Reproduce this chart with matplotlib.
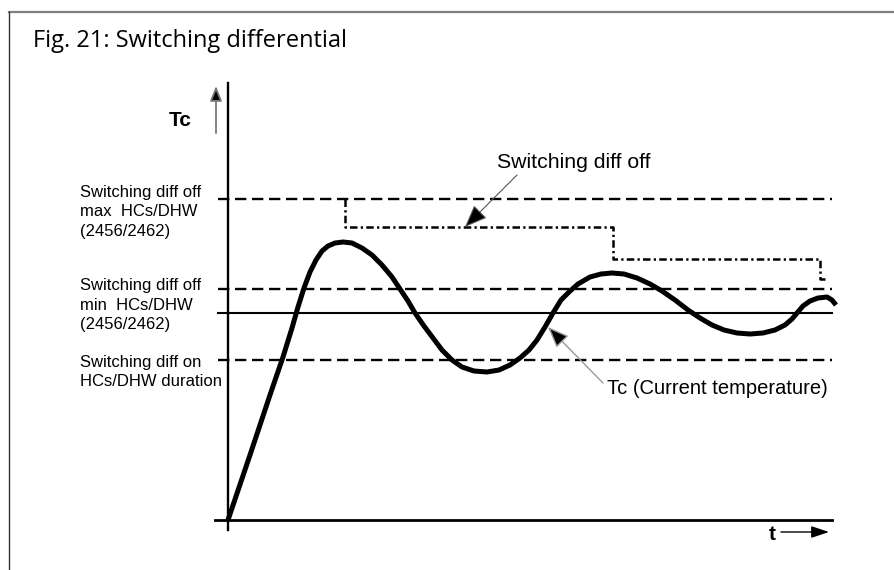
import matplotlib
matplotlib.use("Agg")
import matplotlib.pyplot as plt
from matplotlib.lines import Line2D

# Current temperature Tc over time t (arbitrary units)
t_curve = [0, 22, 42, 55, 64, 70, 76, 82, 88, 94, 100, 107, 115, 124, 134, 144,
           154, 164, 172, 180, 187, 196, 205, 214, 224, 234, 246, 259, 271, 282,
           292, 301, 309, 317, 325, 333, 341, 350, 362, 373, 384, 396, 409, 422,
           434, 447, 460, 472, 484, 496, 509, 522, 535, 547, 557, 564, 569, 575,
           582, 590, 599, 604, 608]
tc_curve = [0, 65, 125, 163, 192, 213, 232, 248, 260, 269, 274, 277, 278, 277, 272, 265,
            255, 243, 231, 219, 207, 194, 182, 170, 160, 153, 149, 148, 150, 155,
            162, 170, 180, 193, 207, 220, 228, 236, 243, 246, 247, 246, 242, 236,
            229, 220, 210, 202, 195, 190, 187, 186, 187, 190, 195, 201, 207, 214,
            219, 222, 223, 220, 215]

# Switching differential off, stepping down over time
t_step = [117, 117, 385, 385, 592, 592, 599]
tc_step = [321, 293, 293, 261, 261, 241, 241]

# Reference levels
level_off_max = 321
level_off_min = 231
level_setpoint = 207
level_on = 160

labels_off_max = "Switching diff off\nmax  HCs/DHW\n(2456/2462)"
labels_off_min = "Switching diff off\nmin  HCs/DHW\n(2456/2462)"
labels_on = "Switching diff on\nHCs/DHW duration"

fig = plt.figure(figsize=(8.94, 5.70), dpi=100)
ax = fig.add_axes([228 / 894, 50 / 570, 604 / 894, 437 / 570])
ax.set_xlim(0, 604)
ax.set_ylim(0, 437)
ax.axis("off")

# frame around the figure
fig.add_artist(Line2D([9 / 894, 1], [1 - 11.5 / 570] * 2, color="#808080", lw=1.6))
fig.add_artist(Line2D([9.3 / 894] * 2, [0, 1 - 11.5 / 570], color="#333333", lw=1.0))

fig.text(33 / 894, 1 - 41 / 570, "Fig. 21: Switching differential",
         fontfamily="Open Sans", fontsize=17, va="center", ha="left")

font = dict(fontfamily="Liberation Sans", color="black")

# axes lines
ax.plot([0, 0], [-10, 437], color="black", lw=1.7, clip_on=False)
ax.plot([-13, 604], [0, 0], color="black", lw=2.0, clip_on=False)

# horizontal levels
for lvl in (level_off_max, level_off_min, level_on):
    ax.plot([-10, 604], [lvl, lvl], color="black", lw=1.7,
            dashes=(4.8, 2.4), clip_on=False)
ax.plot([-10, 604], [level_setpoint] * 2, color="black", lw=1.5, clip_on=False)

ax.plot(t_step, tc_step, color="black", lw=1.8,
        dashes=(3.0, 1.3, 0.9, 1.3), clip_on=False)

ax.plot(t_curve, tc_curve, color="black", lw=3.6, solid_capstyle="butt",
        solid_joinstyle="round", clip_on=False)

# level labels
for y, txt in ((308, labels_off_max), (215, labels_off_min), (148, labels_on)):
    ax.text(-148, y, txt, fontsize=12, va="center", ha="left",
            linespacing=1.4, **font)

# axis names with arrows
ax.text(-36, 400, "Tc", fontsize=15, fontweight="bold", va="center",
        ha="right", **font)
ax.annotate("", xy=(-12, 434), xytext=(-12, 387), annotation_clip=False,
            arrowprops=dict(arrowstyle="-|>,head_length=0.5,head_width=0.2",
                            facecolor="black", edgecolor="#777777", lw=1.3,
                            mutation_scale=18, shrinkA=0, shrinkB=0))
ax.text(544, -14, "t", fontsize=15, fontweight="bold", va="center",
        ha="center", **font)
ax.annotate("", xy=(601, -12), xytext=(553, -12), annotation_clip=False,
            arrowprops=dict(arrowstyle="-|>,head_length=0.6,head_width=0.2",
                            color="black", lw=1.0,
                            mutation_scale=18, shrinkA=0, shrinkB=0))

# callouts
ax.text(269, 358, "Switching diff off", fontsize=15.3, va="center",
        ha="left", **font)
ax.annotate("", xy=(237, 293), xytext=(289, 345),
            arrowprops=dict(arrowstyle="-|>,head_length=0.5,head_width=0.2",
                            facecolor="black", edgecolor="#555555", lw=0.8,
                            mutation_scale=28, shrinkA=0, shrinkB=0))
ax.text(379, 131, "Tc (Current temperature)", fontsize=14.5, va="center",
        ha="left", **font)
ax.annotate("", xy=(320, 193), xytext=(375, 137),
            arrowprops=dict(arrowstyle="-|>,head_length=0.5,head_width=0.2",
                            facecolor="black", edgecolor="#999999", lw=1.0,
                            mutation_scale=26, shrinkA=0, shrinkB=0))

fig.savefig("out.png", dpi=100)
